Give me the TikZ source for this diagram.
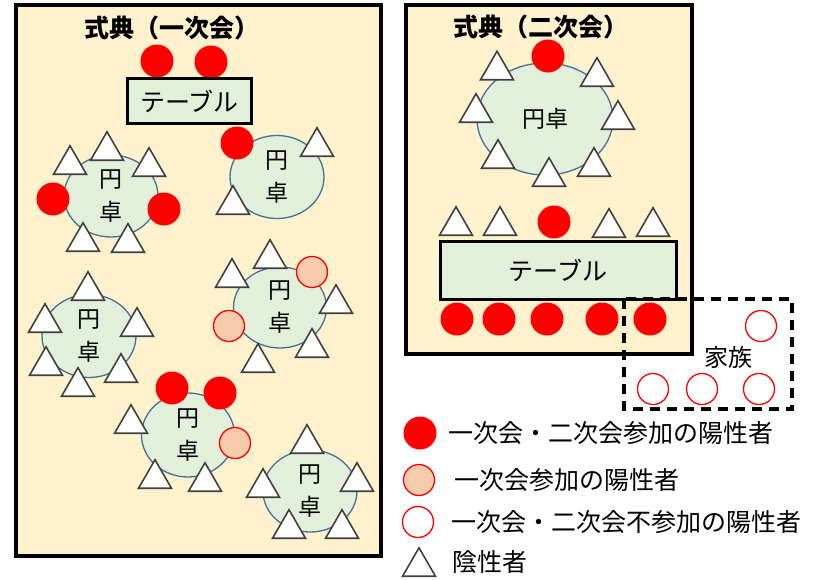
\documentclass[tikz,border=0pt]{standalone}
\usepackage{fontspec}
\setmainfont{Noto Sans CJK JP}
\usetikzlibrary{shapes.geometric}
\definecolor{panelfill}{HTML}{FFF2CC}
\definecolor{tblfill}{HTML}{E2EFDA}
\definecolor{tblline}{HTML}{41719C}
\definecolor{salmon}{HTML}{F8CBAD}
\definecolor{triline}{HTML}{404040}
\begin{document}
\begin{tikzpicture}[x=1pt,y=-1pt,
  panelbox/.style={draw=black,line width=3.3pt,fill=panelfill},
  tablebox/.style={draw=black,line width=3pt,fill=tblfill,inner sep=0pt,font=\fontsize{25}{25}\selectfont},
  roundtab/.style={ellipse,draw=tblline,line width=1.3pt,fill=tblfill,inner sep=0pt},
  rtext/.style={inner sep=0pt,align=center,font=\fontsize{23}{33}\selectfont},
  posdot/.style={circle,fill=red,minimum size=33pt,inner sep=0pt},
  halfdot/.style={circle,fill=salmon,draw=red,line width=1.3pt,minimum size=31pt,inner sep=0pt},
  opendot/.style={circle,fill=white,draw=red,line width=1.3pt,minimum size=31pt,inner sep=0pt},
  tri/.style={regular polygon,regular polygon sides=3,draw=triline,line width=1.6pt,fill=white,minimum size=38pt,inner sep=0pt,yshift=-4.75pt},
  titletext/.style={inner sep=0pt,font=\bfseries\fontsize{25}{25}\selectfont},
  legtext/.style={anchor=west,inner sep=0pt,font=\fontsize{25}{25}\selectfont},
  famline/.style={draw=black,line width=3.5pt,dash pattern=on 10pt off 7pt}]
\useasboundingbox (0,0) rectangle (819,579);

% ---------- left panel ----------
\draw[panelbox] (16,5) rectangle (381,556);
\node[titletext] (title1) at (172,28) {式典（一次会）};
\node[posdot] (a1) at (157,61) {};
\node[posdot] (a2) at (211,62) {};
\node[tablebox,minimum width=124pt,minimum height=45pt] (tab1) at (189.5,101) {テーブル};

% round tables
\node[roundtab,minimum width=94pt,minimum height=82pt] (r1) at (111,196) {};
\node[roundtab,minimum width=94pt,minimum height=83pt] (r2) at (277,177) {};
\node[roundtab,minimum width=93pt,minimum height=81pt] (r3) at (280,307.5) {};
\node[roundtab,minimum width=94pt,minimum height=83pt] (r4) at (89,336) {};
\node[roundtab,minimum width=93pt,minimum height=84pt] (r5) at (188,435) {};
\node[roundtab,minimum width=94pt,minimum height=82pt] (r6) at (310,491) {};
\foreach \r in {r1,r2,r3,r4,r5,r6}
  \node[rtext] (\r t) at (\r) {円\\卓};

% table 1
\node[posdot] (b1) at (53,199) {};
\node[posdot] (b2) at (164,209) {};
\foreach \x/\y [count=\i] in {70/160,107/146,149/162,83/237,128/238}
  \node[tri] (ta\i) at (\x,\y) {};
% table 2
\node[posdot] (c1) at (237,143) {};
\foreach \x/\y [count=\i] in {317/142,233/200}
  \node[tri] (tb\i) at (\x,\y) {};
% table 3
\foreach \x/\y [count=\i] in {232/273,270/254,336/299,312/343,258/358}
  \node[tri] (tc\i) at (\x,\y) {};
\node[halfdot] (d1) at (312,272) {};
\node[halfdot] (d2) at (229,326) {};
% table 4
\foreach \x/\y [count=\i] in {88/286,45/318,137/322,46/361,78/382,121/368}
  \node[tri] (td\i) at (\x,\y) {};
% table 5
\node[posdot] (e1) at (172,388) {};
\node[posdot] (e2) at (220,393) {};
\node[halfdot] (e3) at (235,443) {};
\foreach \x/\y [count=\i] in {131/419,155/474,205/477}
  \node[tri] (te\i) at (\x,\y) {};
% table 6
\foreach \x/\y [count=\i] in {307/439,263/483,357/477,289/524,342/524}
  \node[tri] (tf\i) at (\x,\y) {};

% ---------- right panel ----------
\draw[panelbox] (406,5) rectangle (692,354);
\node[titletext] (title2) at (541,27) {式典（二次会）};
\node[roundtab,minimum width=136pt,minimum height=112pt] (r7) at (545,119) {};
\node[rtext] (r7t) at (r7) {円卓};
\node[posdot] (f1) at (548,56) {};
\foreach \x/\y [count=\i] in {497/65.5,597/72,476/108,618/115,498/154,594/162,549/172}
  \node[tri] (tg\i) at (\x,\y) {};
\foreach \x/\y [count=\i] in {456/221,500/221,609/223,653/222}
  \node[tri] (th\i) at (\x,\y) {};
\node[posdot] (f2) at (554,222) {};
\node[tablebox,minimum width=236pt,minimum height=58pt] (tab2) at (558,270) {テーブル};
\foreach \x [count=\i] in {457,499,547,602,650}
  \node[posdot] (g\i) at (\x,319) {};

% family box
\draw[famline] (624,299) rectangle (792,409);
\node[inner sep=0pt,font=\fontsize{24}{24}\selectfont] (fam) at (728,357) {家族};
\node[opendot] (h1) at (761,326) {};
\node[opendot] (h2) at (653,389) {};
\node[opendot] (h3) at (702,389) {};
\node[opendot] (h4) at (759,389) {};

% ---------- legend ----------
\node[posdot] (l1) at (420,433) {};
\node[legtext] (l1t) at (448,433) {一次会・二次会参加の陽性者};
\node[halfdot] (l2) at (419,480) {};
\node[legtext] (l2t) at (454,480) {一次会参加の陽性者};
\node[opendot] (l3) at (418,522) {};
\node[legtext] (l3t) at (451,522) {一次会・二次会不参加の陽性者};
\node[tri] (l4) at (419,562) {};
\node[legtext] (l4t) at (452,562) {陰性者};
\end{tikzpicture}
\end{document}
